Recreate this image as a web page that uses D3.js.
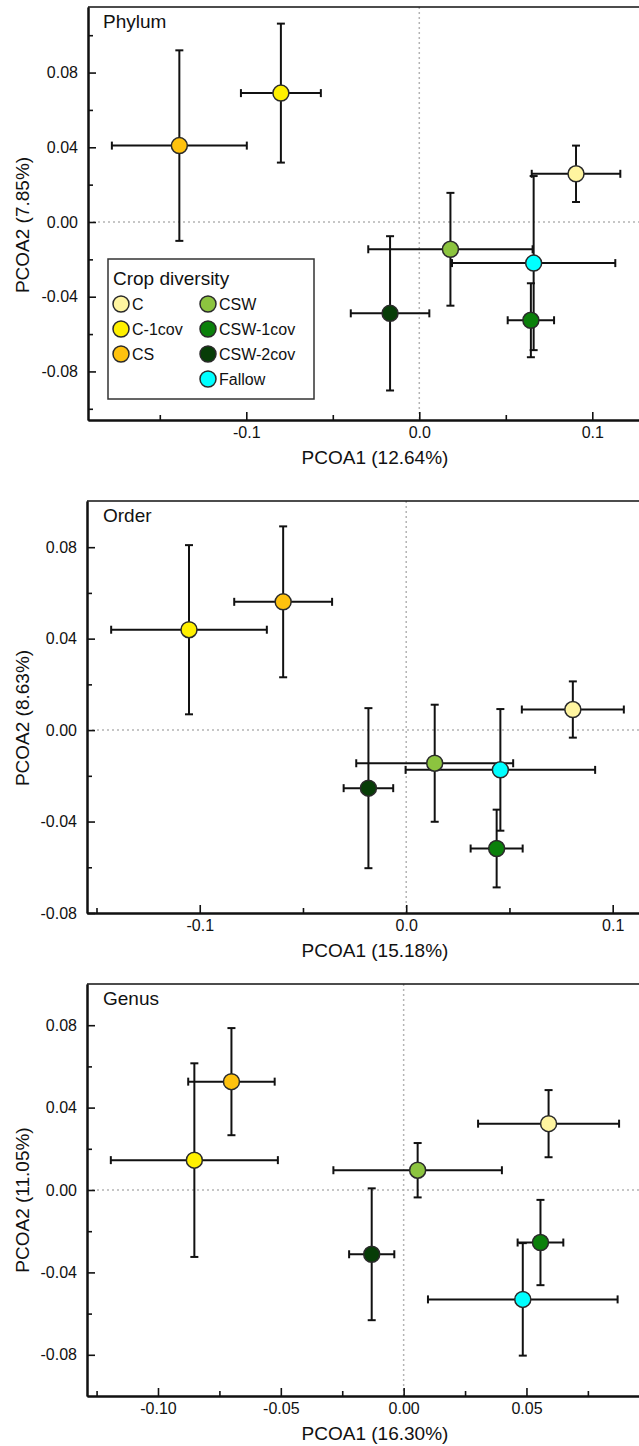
<!DOCTYPE html>
<html>
<head>
<meta charset="utf-8">
<script src="https://cdn.jsdelivr.net/npm/d3@7"></script>
<style>
  html, body { margin: 0; padding: 0; background: #fff; }
  svg { display: block; }
  text { font-family: "Liberation Sans", Arial, sans-serif; fill: #111; }
</style>
</head>
<body>
<svg id="chart" width="639" height="1446"></svg>
<script>
// ---------- data ----------
const groups = ["C", "C-1cov", "CS", "CSW", "CSW-1cov", "CSW-2cov", "Fallow"];
const groupColors = ["#FFF5A0", "#FFF000", "#FFC20E", "#8CC43F", "#0B800B", "#073D07", "#00FFFF"];

// Phylum
const phylumX    = [0.0906, -0.0800, -0.1387, 0.0180, 0.0645, -0.0169, 0.0661];
const phylumY    = [0.0258, 0.0690, 0.0409, -0.0146, -0.0526, -0.0489, -0.0220];
const phylumXErr = [0.0256, 0.0231, 0.0390, 0.0475, 0.0134, 0.0227, 0.0472];
const phylumYErr = [0.0151, 0.0372, 0.0510, 0.0302, 0.0198, 0.0413, 0.0466];

// Order
const orderX    = [0.0807, -0.1052, -0.0596, 0.0138, 0.0438, -0.0183, 0.0456];
const orderY    = [0.0090, 0.0439, 0.0561, -0.0145, -0.0518, -0.0254, -0.0174];
const orderXErr = [0.0247, 0.0377, 0.0237, 0.0380, 0.0126, 0.0120, 0.0459];
const orderYErr = [0.0123, 0.0370, 0.0330, 0.0256, 0.0170, 0.0350, 0.0266];

// Genus
const genusX    = [0.0590, -0.0852, -0.0701, 0.0057, 0.0557, -0.0130, 0.0485];
const genusY    = [0.0322, 0.0145, 0.0526, 0.0096, -0.0255, -0.0312, -0.0531];
const genusXErr = [0.0287, 0.0340, 0.0176, 0.0343, 0.0093, 0.0092, 0.0386];
const genusYErr = [0.0163, 0.0470, 0.0260, 0.0132, 0.0207, 0.0320, 0.0273];

// ticks
const phylumXTicks = [-0.1, 0, 0.1];            const phylumXTickLabels = ["-0.1", "0.0", "0.1"];
const phylumXMinor = [-0.15, -0.05, 0.05];
const phylumYTicks = [-0.08, -0.04, 0, 0.04, 0.08]; const phylumYTickLabels = ["-0.08", "-0.04", "0.00", "0.04", "0.08"];
const phylumYMinor = [-0.10, -0.06, -0.02, 0.02, 0.06, 0.10];

const orderXTicks = [-0.1, 0, 0.1];             const orderXTickLabels = ["-0.1", "0.0", "0.1"];
const orderXMinor = [-0.15, -0.05, 0.05];
const orderYTicks = [-0.08, -0.04, 0, 0.04, 0.08];  const orderYTickLabels = ["-0.08", "-0.04", "0.00", "0.04", "0.08"];
const orderYMinor = [-0.06, -0.02, 0.02, 0.06];

const genusXTicks = [-0.10, -0.05, 0, 0.05];    const genusXTickLabels = ["-0.10", "-0.05", "0.00", "0.05"];
const genusXMinor = [-0.125, -0.075, -0.025, 0.025, 0.075];
const genusYTicks = [-0.08, -0.04, 0, 0.04, 0.08];  const genusYTickLabels = ["-0.08", "-0.04", "0.00", "0.04", "0.08"];
const genusYMinor = [-0.06, -0.02, 0.02, 0.06];

const panelNames = ["Phylum", "Order", "Genus"];
const xTitles = ["PCOA1 (12.64%)", "PCOA1 (15.18%)", "PCOA1 (16.30%)"];
const yTitles = ["PCOA2 (7.85%)", "PCOA2 (8.63%)", "PCOA2 (11.05%)"];
const legendTitle = "Crop diversity";

// ---------- layout ----------
const panels = [
  { name: panelNames[0], xs: phylumX, ys: phylumY, xe: phylumXErr, ye: phylumYErr,
    xDomain: [-0.1915, 0.1507], yDomain: [-0.106, 0.1151],
    left: 88, right: 680, top: 7, bottom: 420, yTitleY: 225,
    xTicks: phylumXTicks, xLabels: phylumXTickLabels, xMinor: phylumXMinor,
    yTicks: phylumYTicks, yLabels: phylumYTickLabels, yMinor: phylumYMinor,
    xTitle: xTitles[0], yTitle: yTitles[0], legend: true },
  { name: panelNames[1], xs: orderX, ys: orderY, xe: orderXErr, ye: orderYErr,
    xDomain: [-0.1546, 0.1326], yDomain: [-0.08, 0.1002],
    left: 87, right: 680, top: 501, bottom: 913, yTitleY: 718,
    xTicks: orderXTicks, xLabels: orderXTickLabels, xMinor: orderXMinor,
    yTicks: orderYTicks, yLabels: orderYTickLabels, yMinor: orderYMinor,
    xTitle: xTitles[1], yTitle: yTitles[1], legend: false },
  { name: panelNames[2], xs: genusX, ys: genusY, xe: genusXErr, ye: genusYErr,
    xDomain: [-0.1289, 0.1125], yDomain: [-0.10, 0.10],
    left: 87, right: 680, top: 984, bottom: 1396, yTitleY: 1200,
    xTicks: genusXTicks, xLabels: genusXTickLabels, xMinor: genusXMinor,
    yTicks: genusYTicks, yLabels: genusYTickLabels, yMinor: genusYMinor,
    xTitle: xTitles[2], yTitle: yTitles[2], legend: false }
];

const svg = d3.select("#chart");
const color = d3.scaleOrdinal().domain(groups).range(groupColors);
const CAP = 4, R = 8;

panels.forEach(p => {
  const x = d3.scaleLinear().domain(p.xDomain).range([p.left, p.right]);
  const y = d3.scaleLinear().domain(p.yDomain).range([p.bottom, p.top]);
  const g = svg.append("g");

  // zero reference lines
  g.append("line").attr("x1", x(0)).attr("x2", x(0)).attr("y1", p.top).attr("y2", p.bottom)
    .attr("stroke", "#b4b4b4").attr("stroke-width", 1.5).attr("stroke-dasharray", "2,3");
  g.append("line").attr("x1", p.left).attr("x2", p.right).attr("y1", y(0)).attr("y2", y(0))
    .attr("stroke", "#b4b4b4").attr("stroke-width", 1.5).attr("stroke-dasharray", "2,3");

  // top frame
  g.append("line").attr("x1", p.left).attr("x2", p.right).attr("y1", p.top).attr("y2", p.top)
    .attr("stroke", "#111").attr("stroke-width", 1.6);

  // x axis (ticks inward)
  const xAxis = d3.axisBottom(x).tickValues(p.xTicks).tickSize(-8).tickSizeOuter(0).tickPadding(7)
    .tickFormat((d, i) => p.xLabels[i]);
  const xMinorAxis = d3.axisBottom(x).tickValues(p.xMinor).tickSize(-5).tickSizeOuter(0).tickFormat("");
  const gx = g.append("g").attr("transform", `translate(0,${p.bottom})`).call(xAxis);
  const gxm = g.append("g").attr("transform", `translate(0,${p.bottom})`).call(xMinorAxis);
  [gx, gxm].forEach(a => {
    a.select(".domain").attr("stroke", "#111").attr("stroke-width", 2);
    a.selectAll(".tick line").attr("stroke", "#111").attr("stroke-width", 1.6);
  });
  gx.selectAll(".tick text").attr("font-size", 16).attr("fill", "#111")
    .style("font-family", '"Liberation Sans", Arial, sans-serif');

  // y axis (ticks inward)
  const yAxis = d3.axisLeft(y).tickValues(p.yTicks).tickSize(-8).tickSizeOuter(0).tickPadding(10)
    .tickFormat((d, i) => p.yLabels[i]);
  const yMinorAxis = d3.axisLeft(y).tickValues(p.yMinor).tickSize(-5).tickSizeOuter(0).tickFormat("");
  const gy = g.append("g").attr("transform", `translate(${p.left},0)`).call(yAxis);
  const gym = g.append("g").attr("transform", `translate(${p.left},0)`).call(yMinorAxis);
  [gy, gym].forEach(a => {
    a.select(".domain").attr("stroke", "#111").attr("stroke-width", 2);
    a.selectAll(".tick line").attr("stroke", "#111").attr("stroke-width", 1.6);
  });
  gy.selectAll(".tick text").attr("font-size", 16).attr("fill", "#111")
    .style("font-family", '"Liberation Sans", Arial, sans-serif');

  // axis titles
  g.append("text").attr("x", 375).attr("y", p.bottom + 44).attr("text-anchor", "middle")
    .attr("font-size", 19).text(p.xTitle);
  g.append("text").attr("transform", `translate(29,${p.yTitleY}) rotate(-90)`).attr("text-anchor", "middle")
    .attr("font-size", 19).text(p.yTitle);

  // panel label
  g.append("text").attr("x", 103).attr("y", p.top + 21).attr("font-size", 19).text(p.name);

  // error bars
  const data = groups.map((k, i) => ({ k, x: p.xs[i], y: p.ys[i], xe: p.xe[i], ye: p.ye[i] }));
  const eb = g.append("g").attr("stroke", "#111").attr("stroke-width", 2).attr("fill", "none");
  data.forEach(d => {
    const cx = x(d.x), cy = y(d.y);
    const x0 = x(d.x - d.xe), x1 = x(d.x + d.xe);
    const y0 = y(d.y + d.ye), y1 = y(d.y - d.ye);
    eb.append("line").attr("x1", x0).attr("x2", x1).attr("y1", cy).attr("y2", cy);
    eb.append("line").attr("x1", x0).attr("x2", x0).attr("y1", cy - CAP).attr("y2", cy + CAP);
    eb.append("line").attr("x1", x1).attr("x2", x1).attr("y1", cy - CAP).attr("y2", cy + CAP);
    eb.append("line").attr("x1", cx).attr("x2", cx).attr("y1", y0).attr("y2", y1);
    eb.append("line").attr("x1", cx - CAP).attr("x2", cx + CAP).attr("y1", y0).attr("y2", y0);
    eb.append("line").attr("x1", cx - CAP).attr("x2", cx + CAP).attr("y1", y1).attr("y2", y1);
  });
  // markers
  g.append("g").selectAll("circle").data(data).join("circle")
    .attr("cx", d => x(d.x)).attr("cy", d => y(d.y)).attr("r", R)
    .attr("fill", d => color(d.k)).attr("stroke", "#2a2a2a").attr("stroke-width", 1.5);

  // legend
  if (p.legend) {
    const lg = g.append("g");
    lg.append("rect").attr("x", 108).attr("y", 259).attr("width", 206).attr("height", 140)
      .attr("fill", "#fff").attr("stroke", "#333").attr("stroke-width", 1.5);
    lg.append("text").attr("x", 113).attr("y", 285).attr("font-size", 19).text(legendTitle);
    const colX = [121, 208], rowY = [304, 329, 354, 379];
    const pos = [[0,0],[0,1],[0,2],[1,0],[1,1],[1,2],[1,3]];
    groups.forEach((k, i) => {
      const [c, r] = pos[i];
      lg.append("circle").attr("cx", colX[c]).attr("cy", rowY[r]).attr("r", R)
        .attr("fill", color(k)).attr("stroke", "#2a2a2a").attr("stroke-width", 1.5);
      lg.append("text").attr("x", colX[c] + 11).attr("y", rowY[r] + 5.5).attr("font-size", 16).text(k);
    });
  }
});
</script>
</body>
</html>
